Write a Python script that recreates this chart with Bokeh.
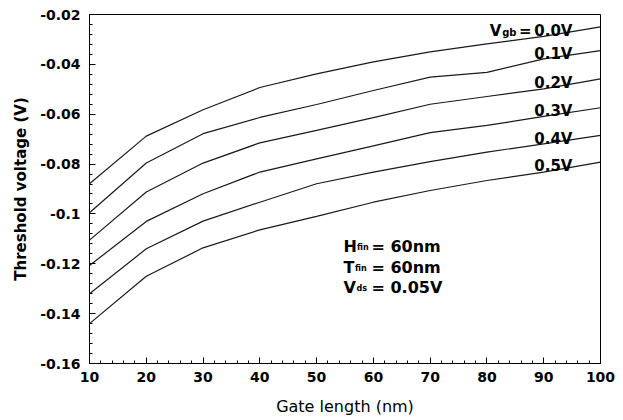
import numpy as np
from bokeh.plotting import figure
from bokeh.models import Range1d, FixedTicker, CustomJSTickFormatter
from bokeh.core.properties import value
from bokeh.embed import file_html
from bokeh.resources import INLINE

# ---- data ----
gate_length = [10, 20, 30, 40, 50, 60, 70, 80, 90, 100]
vth_0_0 = [-0.0879, -0.0688, -0.0582, -0.0493, -0.0438, -0.0390, -0.0350, -0.0318, -0.0288, -0.0250]
vth_0_1 = [-0.0995, -0.0796, -0.0678, -0.0613, -0.0561, -0.0505, -0.0451, -0.0432, -0.0378, -0.0345]
vth_0_2 = [-0.1105, -0.0912, -0.0796, -0.0715, -0.0665, -0.0614, -0.0560, -0.0529, -0.0498, -0.0458]
vth_0_3 = [-0.1207, -0.1030, -0.0919, -0.0832, -0.0779, -0.0727, -0.0674, -0.0645, -0.0609, -0.0574]
vth_0_4 = [-0.1320, -0.1140, -0.1029, -0.0953, -0.0879, -0.0832, -0.0790, -0.0752, -0.0719, -0.0685]
vth_0_5 = [-0.1440, -0.1250, -0.1136, -0.1064, -0.1010, -0.0953, -0.0906, -0.0866, -0.0832, -0.0792]
series = [vth_0_0, vth_0_1, vth_0_2, vth_0_3, vth_0_4, vth_0_5]
vgb_labels = ["0.0V", "0.1V", "0.2V", "0.3V", "0.4V", "0.5V"]

x_ticks = [10, 20, 30, 40, 50, 60, 70, 80, 90, 100]
y_ticks = [-0.16, -0.14, -0.12, -0.10, -0.08, -0.06, -0.04, -0.02]

x_label = "Gate length (nm)"
y_label = "Threshold voltage (V)"

FONT = value("DejaVu Sans")

p = figure(width=623, height=420,
           x_range=Range1d(10, 100), y_range=Range1d(-0.16, -0.02),
           output_backend="svg", toolbar_location=None,
           min_border_left=89, min_border_right=23,
           min_border_top=14, min_border_bottom=57)
p.background_fill_color = "white"
p.border_fill_color = "white"
p.xgrid.visible = False
p.ygrid.visible = False
p.outline_line_color = "black"
p.outline_line_width = 1

x_minor = [float(v) for v in np.arange(10, 101, 2)]
y_minor = [float(v) for v in np.round(np.arange(-0.16, -0.0199, 0.004), 4)]
p.xaxis.ticker = FixedTicker(ticks=x_ticks, minor_ticks=x_minor)
p.yaxis.ticker = FixedTicker(ticks=y_ticks, minor_ticks=y_minor)
p.yaxis.formatter = CustomJSTickFormatter(code="return String(parseFloat(tick.toFixed(2)));")

for ax in (p.xaxis[0], p.yaxis[0]):
    ax.axis_line_color = "black"
    ax.major_tick_line_color = "black"
    ax.minor_tick_line_color = "black"
    ax.major_tick_in = 6
    ax.major_tick_out = 0
    ax.minor_tick_in = 3
    ax.minor_tick_out = 0
    ax.major_label_text_font = "DejaVu Sans"
    ax.major_label_text_font_style = "bold"
    ax.major_label_text_font_size = "14px"
    ax.major_label_text_color = "black"
    ax.axis_label_text_font = "DejaVu Sans"
    ax.axis_label_text_color = "black"

p.xaxis.axis_label = x_label
p.xaxis.axis_label_text_font_style = "normal"
p.xaxis.axis_label_text_font_size = "16px"
p.xaxis.major_label_standoff = 8
p.xaxis.axis_label_standoff = 12

p.yaxis.axis_label = y_label
p.yaxis.axis_label_text_font_style = "bold"
p.yaxis.axis_label_text_font_size = "15px"
p.yaxis.major_label_standoff = 9
p.yaxis.axis_label_standoff = 7

for s in series:
    p.line(gate_length, s, line_color="#1a1a1a", line_width=1.2)

# curve labels, placed on the curves near the right edge
lx = 95.06
label_y = [float(np.interp(95, gate_length, s)) for s in series]
p.text(x=[lx] * len(vgb_labels), y=label_y, text=vgb_labels,
       text_align="right", text_baseline="alphabetic", y_offset=-1,
       text_font=FONT, text_font_style="bold", text_font_size="15px", text_color="black")
p.text(x=[lx], y=[label_y[0]], text=["="], x_offset=-41, y_offset=-1,
       text_align="right", text_baseline="alphabetic",
       text_font=FONT, text_font_style="bold", text_font_size="15px", text_color="black")
p.text(x=[lx], y=[label_y[0]], text=["gb"], x_offset=-56, y_offset=1,
       text_align="right", text_baseline="alphabetic",
       text_font=FONT, text_font_style="bold", text_font_size="10px", text_color="black")
p.text(x=[lx], y=[label_y[0]], text=["V"], x_offset=-71, y_offset=-1,
       text_align="right", text_baseline="alphabetic",
       text_font=FONT, text_font_style="bold", text_font_size="15px", text_color="black")

# parameter annotation block
ann_main = ["H", "T", "V"]
ann_sub = ["fin", "fin", "ds"]
ann_rest = ["= 60nm", "= 60nm", "= 0.05V"]
ax0 = 54.73
ann_y = [-0.1131, -0.1215, -0.1295]
sub_off = [13.5, 11.5, 13]
p.text(x=[ax0] * 3, y=ann_y, text=ann_main, text_align="left", text_baseline="alphabetic",
       text_font=FONT, text_font_style="bold", text_font_size="16px", text_color="black")
for yy, sb, so in zip(ann_y, ann_sub, sub_off):
    p.text(x=[ax0], y=[yy], text=[sb], x_offset=so, y_offset=1,
           text_align="left", text_baseline="alphabetic",
           text_font=FONT, text_font_style="bold", text_font_size="8px", text_color="black")
p.text(x=[ax0] * 3, y=ann_y, text=ann_rest, x_offset=28, text_align="left", text_baseline="alphabetic",
       text_font=FONT, text_font_style="bold", text_font_size="16px", text_color="black")

open("out.html", "w").write(file_html(p, INLINE))
